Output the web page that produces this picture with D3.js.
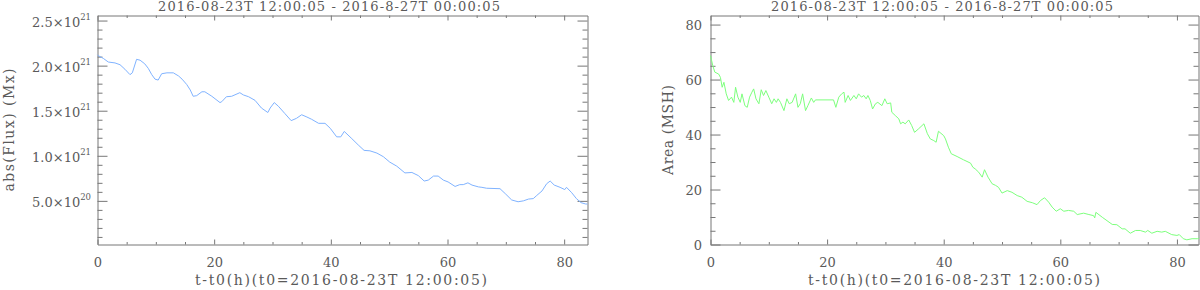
<!DOCTYPE html>
<html>
<head>
<meta charset="utf-8">
<script src="https://cdn.jsdelivr.net/npm/d3@7"></script>
<style>
  body { margin: 0; background: #fff; }
  text { font-family: "DejaVu Serif", serif; fill: #5a5a5a; }
  .axis path, .axis line { stroke: #777; }
</style>
</head>
<body>
<div id="chart"></div>
<script>
// Flux curve (hours since t0, abs flux in units of 1e21 Mx)
var fluxTime = [0, 0.14, 1.0, 1.85, 3.0, 3.86, 4.7, 5.57, 5.97, 6.7, 7.3, 8.1, 8.7, 9.3, 9.86, 10.4, 11.0, 11.9,
  13.0, 13.9, 14.5, 15.3, 15.9, 16.4, 17.0, 17.9, 18.4, 19.6, 21.0, 21.3, 22.1, 23.0, 24.4, 25.0, 25.9, 27.0,
  28.1, 29.2, 29.6, 30.3, 31.0, 32.1, 33.2, 34.1, 35.0, 35.9, 36.7, 37.9, 39.0, 39.9, 41.0, 41.7, 42.3, 43.6,
  44.7, 45.7, 46.7, 47.9, 49.0, 50.1, 51.3, 52.7, 53.9, 55.0, 56.0, 56.7, 57.6, 58.4, 59.3, 60.1, 61.3, 62.1,
  62.7, 63.5, 64.2, 65.3, 65.9, 66.7, 69.0, 69.9, 71.0, 72.1, 73.0, 73.9, 74.7, 75.3, 76.2, 77.0, 77.6, 78.3,
  79.3, 80.1, 80.4, 81.3, 82.1, 82.9, 83.7, 84.0];
var fluxValue = [2.12, 2.11, 2.08, 2.04, 2.03, 2.01, 1.96, 1.90, 1.92, 2.07, 2.06, 2.02, 1.97, 1.90, 1.85, 1.84, 1.91, 1.92,
  1.92, 1.885, 1.85, 1.79, 1.73, 1.66, 1.667, 1.71, 1.71, 1.66, 1.59, 1.60, 1.655, 1.66, 1.70, 1.675, 1.655, 1.615,
  1.53, 1.48, 1.53, 1.59, 1.55, 1.47, 1.39, 1.415, 1.455, 1.43, 1.405, 1.36, 1.36, 1.305, 1.21, 1.21, 1.27, 1.19,
  1.12, 1.06, 1.055, 1.03, 0.99, 0.93, 0.885, 0.81, 0.815, 0.78, 0.72, 0.73, 0.775, 0.775, 0.73, 0.71, 0.66, 0.68,
  0.68, 0.70, 0.675, 0.655, 0.65, 0.64, 0.635, 0.58, 0.51, 0.49, 0.50, 0.52, 0.525, 0.56, 0.61, 0.69, 0.72, 0.675,
  0.65, 0.625, 0.65, 0.59, 0.525, 0.48, 0.465, 0.465];

// Area curve (hours since t0, MSH)
var areaTime = [0, 0.4, 0.74, 1.4, 1.7, 2.0, 2.3, 2.7, 3.1, 3.6, 4.0, 4.3, 4.7, 5.1, 5.4, 5.9, 6.3, 6.7, 7.1, 7.4,
  7.8, 8.3, 8.7, 9.1, 9.5, 10.0, 10.5, 10.9, 11.3, 11.6, 12.0, 12.6, 13.1, 13.5, 14.0, 14.6, 15.0, 15.4, 15.8,
  16.3, 16.7, 17.3, 17.7, 18.0, 21.1, 21.5, 22.0, 22.5, 22.9, 23.1, 23.6, 24.0, 24.6, 25.0, 25.4, 25.9, 26.3,
  26.7, 27.0, 27.4, 27.8, 28.3, 28.7, 29.4, 29.9, 30.3, 30.9, 31.1, 31.7, 32.3, 32.6, 33.0, 33.4, 34.0, 34.5,
  35.0, 35.7, 36.6, 37.2, 37.7, 38.3, 38.7, 39.1, 40.0, 40.3, 40.8, 41.3, 42.3, 43.4, 44.6, 45.0, 45.4, 46.0,
  46.6, 47.0, 47.6, 48.3, 48.9, 49.4, 50.0, 50.9, 51.7, 52.6, 53.4, 54.3, 55.2, 56.0, 56.6, 57.3, 58.0, 58.6,
  59.3, 60.0, 60.6, 61.4, 62.3, 62.9, 64.0, 64.9, 65.7, 65.9, 66.1, 67.2, 68.9, 69.7, 70.6, 71.1, 72.0, 72.9,
  73.7, 74.6, 75.0, 75.7, 76.6, 77.4, 78.0, 79.1, 80.0, 80.4, 81.1, 81.7, 82.6, 83.5, 83.8];
var areaValue = [68.7, 65, 62.7, 62, 60.8, 57.2, 59, 54.8, 52.4, 53.6, 51.7, 57.2, 53.6, 51.7, 54.8, 50.5, 49.9, 53.6, 55.4, 56.6,
  53, 51.2, 56.3, 54.2, 56, 53.6, 51.2, 53, 51.7, 53, 51.7, 48.7, 53, 51.2, 51.7, 54.8, 49.9, 51.2, 54.8,
  48.7, 50.5, 53.3, 51.7, 52.6, 52.6, 49.9, 53.6, 54.8, 55.4, 51.7, 54.2, 52.4, 54.2, 53, 54.8, 53.6, 54.2,
  53, 54.2, 52.4, 49.3, 51.2, 51.7, 50.5, 53, 51.2, 51.5, 48.1, 46.9, 45.7, 43.9, 44.5, 43.9, 45.3, 43.3,
  40.8, 42.1, 43.9, 40.3, 38.4, 37.8, 37.2, 41.2, 39.6, 38.4, 35.4, 33, 32, 30.8, 29.6, 28.1, 27.5, 26.3,
  24.5, 27.2, 24.5, 22.1, 21.5, 20.8, 18.7, 19.6, 19.0, 17.8, 17.2, 15.7, 15.2, 14.5, 16, 17, 15.4, 13.6,
  12.1, 13, 12.1, 12.4, 12.1, 10.9, 11.4, 10.9, 10.5, 9.7, 11.7, 9.9, 7.3, 7.2, 5.7, 5.7, 4.1, 5.1,
  5.1, 4.5, 5.1, 4.1, 4.8, 4.5, 4.8, 3.6, 3.3, 3.6, 2.1, 1.7, 2.1, 2.1, 2.3];

var titleText = "2016-08-23T 12:00:05 - 2016-8-27T 00:00:05";
var xTitle = "t-t0(h)(t0=2016-08-23T 12:00:05)";
var xMajor = [0, 20, 40, 60, 80];
var fluxMajor = [0.5, 1.0, 1.5, 2.0, 2.5];
var areaMajor = [0, 20, 40, 60, 80];

var svgWidth = 1200;
var svgHeight = 290;

var svg = d3.select("#chart")
  .append("svg")
  .attr("width", svgWidth)
  .attr("height", svgHeight);

// draw one IDL-style boxed panel
function drawPanel(p) {
  var x = d3.scaleLinear().domain(p.xDomain).range([p.left, p.right]);
  var y = d3.scaleLinear().domain(p.yDomain).range([p.bottom, p.top]);

  var xMinor = d3.range(0, p.xDomain[1], 5).filter(d => xMajor.indexOf(d) < 0);
  var yMinor = d3.range(p.yMinorStep, p.yDomain[1], p.yMinorStep)
    .filter(d => d > p.yDomain[0] && !p.yMajor.some(m => Math.abs(m - d) < 1e-6));

  // bottom + top axes
  svg.append("g").attr("class", "axis")
    .attr("transform", `translate(0,${p.bottom})`)
    .call(d3.axisBottom(x).tickValues(xMajor).tickSizeInner(-5).tickSizeOuter(0).tickPadding(13).tickFormat(d3.format("d")))
    .call(g => g.selectAll("text").attr("font-size", 13).attr("font-family", "DejaVu Serif"));
  svg.append("g").attr("class", "axis")
    .attr("transform", `translate(0,${p.bottom})`)
    .call(d3.axisBottom(x).tickValues(xMinor).tickSizeInner(-2.5).tickSizeOuter(0).tickFormat(""))
    .call(g => g.select(".domain").remove());
  svg.append("g").attr("class", "axis")
    .attr("transform", `translate(0,${p.top})`)
    .call(d3.axisTop(x).tickValues(xMajor).tickSizeInner(-5).tickSizeOuter(0).tickFormat(""));
  svg.append("g").attr("class", "axis")
    .attr("transform", `translate(0,${p.top})`)
    .call(d3.axisTop(x).tickValues(xMinor).tickSizeInner(-2.5).tickSizeOuter(0).tickFormat(""))
    .call(g => g.select(".domain").remove());

  // left + right axes
  svg.append("g").attr("class", "axis")
    .attr("transform", `translate(${p.left},0)`)
    .call(d3.axisLeft(y).tickValues(p.yMajor).tickSizeInner(-10).tickSizeOuter(0).tickFormat(""));
  svg.append("g").attr("class", "axis")
    .attr("transform", `translate(${p.left},0)`)
    .call(d3.axisLeft(y).tickValues(yMinor).tickSizeInner(-5).tickSizeOuter(0).tickFormat(""))
    .call(g => g.select(".domain").remove());
  svg.append("g").attr("class", "axis")
    .attr("transform", `translate(${p.right},0)`)
    .call(d3.axisRight(y).tickValues(p.yMajor).tickSizeInner(-10).tickSizeOuter(0).tickFormat(""));
  svg.append("g").attr("class", "axis")
    .attr("transform", `translate(${p.right},0)`)
    .call(d3.axisRight(y).tickValues(yMinor).tickSizeInner(-5).tickSizeOuter(0).tickFormat(""))
    .call(g => g.select(".domain").remove());

  // y tick labels
  p.yMajor.forEach(function(v) {
    var t = svg.append("text")
      .attr("x", p.labelX)
      .attr("y", y(v) + p.labelDy)
      .attr("text-anchor", "end")
      .attr("font-size", 13);
    p.labelFn(t, v);
  });

  // curve
  var line = d3.line()
    .x(d => x(d[0]))
    .y(d => y(d[1]));
  svg.append("path")
    .datum(d3.zip(p.xs, p.ys))
    .attr("fill", "none")
    .attr("stroke", p.color)
    .attr("stroke-width", 1)
    .attr("d", line);

  // title + axis titles
  svg.append("text")
    .attr("x", p.titleX)
    .attr("y", 11)
    .attr("font-size", 13)
    .attr("textLength", 342)
    .attr("lengthAdjust", "spacing")
    .text(titleText);

  svg.append("text")
    .attr("x", p.xTitleX)
    .attr("y", 285)
    .attr("font-size", 14)
    .attr("textLength", 292)
    .attr("lengthAdjust", "spacing")
    .text(xTitle);

  svg.append("text")
    .attr("transform", `translate(${p.yTitleX},${(p.top + p.bottom) / 2}) rotate(-90)`)
    .attr("text-anchor", "middle")
    .attr("font-size", 14)
    .attr("textLength", p.yTitleLen)
    .attr("lengthAdjust", "spacing")
    .text(p.yTitle);
}

drawPanel({
  left: 97.5, right: 587.5, top: 15.5, bottom: 244.5,
  xDomain: [0, 84], yDomain: [0.016, 2.556],
  yMajor: fluxMajor, yMinorStep: 0.1,
  xs: fluxTime, ys: fluxValue, color: "#80b3ff",
  labelX: 91, labelDy: 6,
  labelFn: function(t, v) {
    var exp = v < 1 ? 20 : 21;
    var mant = v < 1 ? v * 10 : v;
    t.append("tspan").text(mant.toFixed(1) + "\u00d710");
    t.append("tspan").attr("dy", -6.5).attr("font-size", 8.5).text(exp);
  },
  titleX: 158, xTitleX: 195,
  yTitleX: 14, yTitle: "abs(Flux) (Mx)", yTitleLen: 123
});

drawPanel({
  left: 710.5, right: 1198.5, top: 15.5, bottom: 244.5,
  xDomain: [0, 83.7], yDomain: [0, 83.3],
  yMajor: areaMajor, yMinorStep: 5,
  xs: areaTime, ys: areaValue, color: "#7dff7d",
  labelX: 702, labelDy: 5,
  labelFn: function(t, v) { t.text(v); },
  titleX: 771, xTitleX: 808,
  yTitleX: 673, yTitle: "Area (MSH)", yTitleLen: 90
});
</script>
</body>
</html>
